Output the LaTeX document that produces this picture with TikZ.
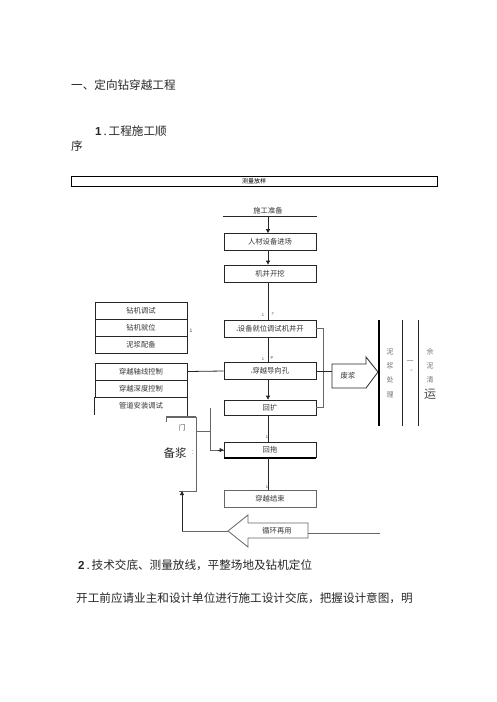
\documentclass[tikz,border=0pt]{standalone}
\usepackage{fontspec}
\setmainfont{Noto Sans CJK SC}
\newfontfamily\lat{Liberation Sans}
\usetikzlibrary{arrows.meta}
\tikzset{
  box/.style={draw=black!85, line width=0.8pt, minimum width=92pt, minimum height=17pt, inner sep=0pt, text=black!80, font=\fontsize{7.3}{8}\selectfont},
  lbl/.style={inner sep=0pt, text=black!80, font=\fontsize{7.3}{8}\selectfont},
  tiny/.style={inner sep=0pt, text=black!75, font=\lat\fontsize{4}{4}\selectfont},
  big/.style={inner sep=0pt, anchor=west, text=black!85, font=\fontsize{11.6}{13}\selectfont},
  vt/.style={inner sep=0pt, text=black!55, font=\fontsize{7}{8}\selectfont},
  ln/.style={draw=black!85, line width=0.8pt},
  gln/.style={draw=black!60, line width=0.8pt},
  arr/.style={ln, -{Triangle[length=4pt,width=4pt]}},
}
\begin{document}
\begin{tikzpicture}[x=1pt,y=-1pt]
\useasboundingbox (0,0) rectangle (496,702);
% headings
\node[big] (title) at (71,85) {一、定向钻穿越工程};
\node[big] (sec1a) at (95,131) {{\lat\bfseries 1}\,.\,工程施工顺};
\node[big] (sec1b) at (71,146) {序};
% survey box
\node[draw=black, line width=0.9pt, minimum width=366pt, minimum height=10pt, inner sep=0pt, font=\fontsize{6}{6}\selectfont] (survey) at (254,181) {测量放样};
% preparation
\node[lbl] (prep) at (268,210.5) {施工准备};
\coordinate (prepL) at (223,216);
\coordinate (prepR) at (317,216);
\coordinate (prepM) at (268,216);
\draw[ln] (prepL) -- (prepR);
% main column
\node[box] (b1) at (270,242) {人材设备进场};
\node[box] (b2) at (270,273.5) {机井开挖};
\node[box] (b3) at (270,328.5) {{\fontsize{3}{3}\selectfont a}设备就位调试机井开};
\node[box] (b4) at (270,371) {{\fontsize{3}{3}\selectfont a}穿越导向孔};
\node[box, minimum height=15pt] (b5) at (270,407.5) {回扩};
\node[box, minimum height=15pt] (b6) at (270,450) {回拖};
\node[box, draw=black!60] (b7) at (270,499) {穿越结束};
\draw[black, line width=1.6pt] (b6.south west) -- (b6.south east);
\draw[arr] (prepM) -- ([xshift=-2pt]b1.north);
\draw[arr] ([xshift=-2pt]b1.south) -- ([xshift=-2pt]b2.north);
\draw[ln] ([xshift=-2pt]b2.south) -- ([xshift=-2pt]b3.north);
\draw[ln] ([xshift=-2pt]b3.south) -- ([xshift=-2pt]b4.north);
\draw[arr] ([xshift=-2pt]b4.south) -- ([xshift=-2pt]b5.north);
\draw[ln] ([xshift=-2pt]b5.south) -- ([xshift=-2pt]b6.north);
\draw[ln] ([xshift=-2pt]b6.south) -- ([xshift=-2pt]b7.north);
\node[tiny] (t1) at (263,315) {1};
\node[tiny] (t2) at (272.5,314.5) {\itshape 7};
\node[tiny] (t3) at (263,359) {1};
\node[tiny] (t4) at (272,358.5) {P};
\node[tiny] (t5) at (267,437) {1};
\node[tiny] (t6) at (267,487) {1};
% left groups
\node[box] (l1) at (141,310.5) {钻机调试};
\node[box] (l2) at (141,327.5) {钻机就位};
\node[box] (l3) at (141,344.5) {泥浆配备};
\node[tiny, font=\lat\fontsize{5}{5}\selectfont] (t7) at (191,331) {1};
\node[box] (l4) at (141,371.5) {穿越轴线控制};
\node[box] (l5) at (141,388.5) {穿越深度控制};
\node[box, draw=none] (l6) at (141,405.5) {管道安装调试};
\draw[ln] ([yshift=-1pt]l6.south west) -- (l6.north west);
\draw[ln] (l4.east) -- (b4.west);
% slurry box
\coordinate (bjTL) at (166,417);
\coordinate (bjTR) at (196,417);
\coordinate (bjBR) at (196,491);
\coordinate (bjBL) at (179,491);
\draw[ln] (l6.north east) -- (l6.north east |- bjTL);
\draw[black!60, line width=1.4pt] (bjTL) -- (bjTR);
\draw[gln] (bjTL) -- ++(0,4.5);
\draw[gln] (bjTR) -- (bjBR) -- (bjBL);
\node[inner sep=0pt, text=black!70, font=\fontsize{7}{7}\selectfont] (men) at (182,428) {门};
\node[inner sep=0pt, text=black!85, font=\fontsize{11.5}{12}\selectfont] (beijiang) at (175,453) {备浆};
\node[inner sep=0pt, text=black!50, font=\fontsize{7}{7}\selectfont] (colon) at (192.5,453) {:};
\coordinate (vtop) at (210,408);
\coordinate (vmid) at (210,431);
\draw[gln] (vtop) -- (vtop |- b6.west) -- (b6.west);
\draw[-{Triangle[length=4pt,width=4pt]}, black!85, line width=0.8pt] ([xshift=-6pt]b6.west) -- (b6.west);
\draw[gln] (vmid -| bjTR) -- (vmid);
% right bracket
\coordinate (brx) at (323,0);
\draw[gln] (b3.east) -- (b3.east -| brx) -- (b5.east -| brx) -- (b5.east);
% waste slurry arrow
\node[inner sep=0pt, text=black!80, font=\fontsize{7.3}{8}\selectfont] (waste) at (348,376) {废浆};
\draw[ln] (b4.east) -- (332,371);
\draw[ln, line join=miter] (332,364) -- (366,364) -- (366,357) -- (378,372) -- (366,388) -- (332,388) -- cycle;
% vertical lines right
\draw[black, line width=1.3pt] (379,320) -- (379,426);
\draw[ln] (402,320) -- (402,426);
\draw[ln] (418,320) -- (418,426);
\node[vt] (n1) at (390,352) {泥};
\node[vt] (n2) at (390,365.5) {浆};
\node[vt] (n3) at (390,380) {处};
\node[vt] (n4) at (390,394.5) {理};
\node[vt] (m1) at (410,362) {一};
\node[vt, font=\lat\fontsize{4}{4}\selectfont] (m2) at (411.5,371) {=};
\node[vt] (r1) at (430,352) {余};
\node[vt] (r2) at (430,365.5) {泥};
\node[vt] (r3) at (430,380) {清};
\node[inner sep=0pt, text=black!70, font=\fontsize{12}{12}\selectfont] (r4) at (430,394.5) {运};
% recycle arrow
\node[inner sep=0pt, text=black!80, font=\fontsize{7.3}{8}\selectfont] (recycle) at (277,531) {循环再用};
\draw[gln, line join=miter] (228,531) -- (248,515) -- (248,523) -- (308,523) -- (308,538) -- (248,538) -- (248,547) -- cycle;
\coordinate (recR) at (380,533);
\coordinate (recL) at (182,531);
\draw[gln] (308,533) -- (recR);
\draw[gln] (228,531) -- (recL);
\draw[-{Triangle[length=4pt,width=4pt]}, black!85, line width=0.8pt] (recL) -- (bjBL -| recL);
% bottom text
\node[big] (sec2) at (78,565) {{\lat\bfseries 2}\,.\,技术交底、测量放线，平整场地及钻机定位};
\node[big] (para) at (76,598) {开工前应请业主和设计单位进行施工设计交底，把握设计意图，明};
\end{tikzpicture}
\end{document}
